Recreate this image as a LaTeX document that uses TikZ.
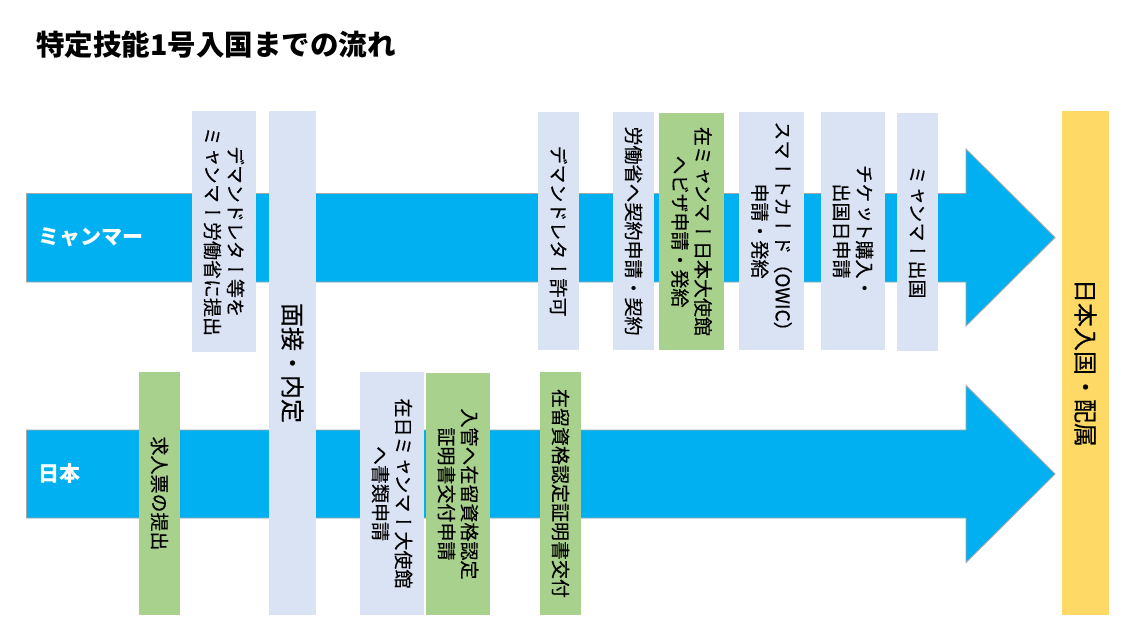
\documentclass[tikz,border=0pt]{standalone}
\usepackage{fontspec}
\newfontfamily\jp{Noto Sans CJK JP}
\newfontfamily\jpv[Vertical=RotatedGlyphs,FakeBold=0.35]{Noto Sans CJK JP}
\newfontfamily\jph[FakeBold=0.35]{Noto Sans CJK JP}
\definecolor{arrowblue}{HTML}{00B0F0}
\definecolor{arrowedge}{HTML}{A6A6A6}
\definecolor{lbfill}{HTML}{DAE3F3}
\definecolor{gnfill}{HTML}{A9D18E}
\definecolor{ylfill}{HTML}{FFD966}
\tikzset{
  flowarrow/.style={fill=arrowblue, draw=arrowedge, line width=0.9pt},
  boxlb/.style={fill=lbfill, inner sep=0pt},
  boxgn/.style={fill=gnfill, inner sep=0pt},
  boxyl/.style={fill=ylfill, inner sep=0pt},
  vtxt/.style={rotate=-90, align=center, inner sep=0pt, font=\jpv\fontsize{19}{23}\selectfont},
  vbig/.style={rotate=-90, align=center, inner sep=0pt, font=\jpv\fontsize{24}{28}\selectfont},
  lanelbl/.style={anchor=west, text=white, inner sep=0pt, font=\jp\bfseries\fontsize{21}{24}\selectfont},
  titlelbl/.style={anchor=west, inner sep=0pt, font=\jp\bfseries\fontsize{28.5}{32}\selectfont},
}
\begin{document}
\begin{tikzpicture}[x=1pt,y=-1pt]
\useasboundingbox (0,0) rectangle (1130,630);
\fill[white] (0,0) rectangle (1130,630);
% title
\node[titlelbl] (title) at (36,45) {特定技能1号入国までの流れ};
% arrows
\draw[flowarrow] (26.5,193.5) -- (966,193.5) -- (966,149) -- (1055,237.5) -- (966,326) -- (966,282) -- (26.5,282) -- cycle;
\draw[flowarrow] (26.5,430) -- (966,430) -- (966,385.5) -- (1055,474) -- (966,562.5) -- (966,518) -- (26.5,518) -- cycle;
\node[lanelbl] (myanmar) at (38,237.5) {ミャンマー};
\node[lanelbl] (japan) at (38,474) {日本};
% boxes
\node[boxlb, minimum width=64pt, minimum height=241pt] (A) at (224,231.5) {};
\node[boxlb, minimum width=47pt, minimum height=504pt] (B) at (292.5,363) {};
\node[boxgn, minimum width=41pt, minimum height=243pt] (C) at (159.5,493.5) {};
\node[boxlb, minimum width=64pt, minimum height=243pt] (D) at (392,493.5) {};
\node[boxgn, minimum width=64pt, minimum height=242pt] (E) at (458,494) {};
\node[boxgn, minimum width=41pt, minimum height=243pt] (F) at (560.5,493.5) {};
\node[boxlb, minimum width=41pt, minimum height=238pt] (G) at (558.5,231) {};
\node[boxlb, minimum width=41pt, minimum height=238pt] (H) at (633.5,231) {};
\node[boxgn, minimum width=65pt, minimum height=237pt] (I) at (691.5,231.5) {};
\node[boxlb, minimum width=65pt, minimum height=238pt] (J) at (771.5,231) {};
\node[boxlb, minimum width=64pt, minimum height=238pt] (K) at (853,231) {};
\node[boxlb, minimum width=41pt, minimum height=238pt] (L) at (917.5,232) {};
\node[boxyl, minimum width=47pt, minimum height=504pt] (M) at (1085.5,363) {};
% texts
\node[vtxt] (tA) at (A) {デマンドレター等を\\ミャンマー労働省に提出};
\node[vbig] (tB) at (B) {面接・内定};
\node[vtxt] (tC) at (C) {求人票の提出};
\node[vtxt] (tD) at (D) {在日ミャンマー大使館\\へ書類申請};
\node[vtxt] (tE) at (E) {入管へ在留資格認定\\証明書交付申請};
\node[vtxt] (tF) at (F) {在留資格認定証明書交付};
\node[vtxt] (tG) at (G) {デマンドレター許可};
\node[vtxt] (tH) at (H) {労働省へ契約申請・契約};
\node[vtxt] (tI) at (I) {在ミャンマー日本大使館\\へビザ申請・発給};
\node[vtxt] (tJ) at (J) {スマートカード{\jph（OWIC）}\\申請・発給};
\node[vtxt] (tK) at (K) {チケット購入・\\出国日申請};
\node[vtxt] (tL) at (L) {ミャンマー出国};
\node[vbig] (tM) at (M) {日本入国・配属};
\end{tikzpicture}
\end{document}
